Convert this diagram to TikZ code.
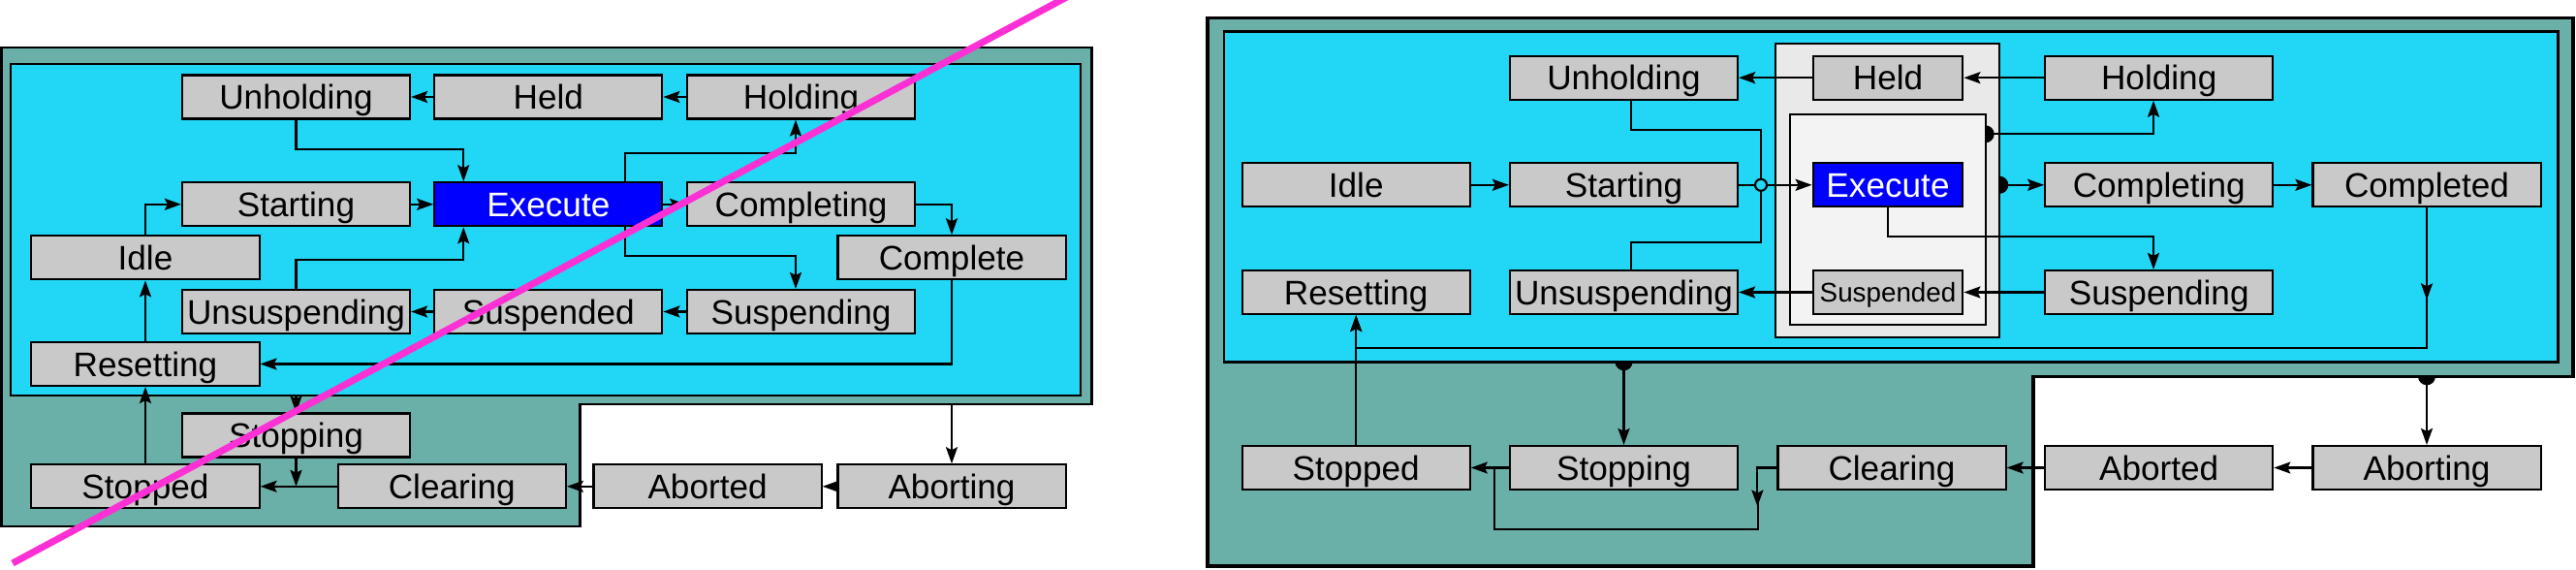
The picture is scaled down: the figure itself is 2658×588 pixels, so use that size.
\documentclass[tikz,border=0pt]{standalone}
\usepackage{fontspec}
\setmainfont{Liberation Sans}
\usetikzlibrary{arrows.meta}
\definecolor{teal1}{RGB}{106,176,168}
\definecolor{cyan1}{RGB}{34,214,245}
\definecolor{boxg}{RGB}{200,201,200}
\definecolor{exblue}{RGB}{0,0,255}
\definecolor{contg}{RGB}{232,233,232}
\definecolor{innerg}{RGB}{243,243,243}
\definecolor{magline}{RGB}{252,48,212}
\begin{document}
\begin{tikzpicture}[x=0.01cm,y=-0.01cm,
  st/.style={draw=black, line width=0.6pt, fill=boxg, minimum width=2.35cm, minimum height=0.45cm,
    inner sep=0pt, font=\fontsize{10}{12}\selectfont, text=black, text height=7.16pt, text depth=0pt},
  stn/.style={st, minimum width=1.546cm},
  ex/.style={fill=exblue, text=white},
  con/.style={line width=0.6pt, -{Stealth[length=0.17cm,width=0.12cm,inset=0.03cm]}},
  ln/.style={line width=0.6pt},
]
\fill[white] (0,0) rectangle (2658,588);
\useasboundingbox (0,0) rectangle (2658,588);

% ================= LEFT DIAGRAM =================
\draw[line width=0.85pt, fill=teal1] (1.5,49) -- (1126,49) -- (1126,417) -- (598,417) -- (598,543) -- (1.5,543) -- cycle;
\draw[line width=0.75pt, fill=cyan1] (11,66) rectangle (1115,408);

\node[st] (Lunh) at (305.5,100) {Unholding};
\node[st] (Lheld) at (565.8,100) {Held};
\node[st] (Lhold) at (826.6,100) {Holding};
\node[st] (Lstart) at (305.5,210.8) {Starting};
\node[st,ex] (Lexec) at (565.8,210.8) {Execute};
\node[st] (Lcomp) at (826.6,210.8) {Completing};
\node[st] (Lidle) at (150,265.8) {Idle};
\node[st] (Lcomplete) at (982,265.8) {Complete};
\node[st] (Lunsus) at (305.5,321.5) {Unsuspending};
\node[st] (Lsusd) at (565.8,321.5) {Suspended};
\node[st] (Lsusg) at (826.6,321.5) {Suspending};
\node[st] (Lreset) at (150,375.5) {Resetting};
\node[st] (Lstopg) at (305.5,449) {Stopping};
\node[st] (Lstopd) at (150,501.8) {Stopped};
\node[st] (Lclear) at (466.3,501.8) {Clearing};
\node[st] (Labtd) at (730.1,501.8) {Aborted};
\node[st] (Labtg) at (982,501.8) {Aborting};

\coordinate (LstopIn) at (305.5,407.7);
\coordinate (Ljoin) at (305.5,501.8);
\coordinate (LabIn) at (982,417);

\draw[con] (Lheld.west) -- (Lunh.east);
\draw[con] (Lhold.west) -- (Lheld.east);
\draw[con] (Lunh.south) -- ++(0,30) -| ([xshift=-0.875cm]Lexec.north);
\draw[con] (Lstart.east) -- (Lexec.west);
\draw[con] (Lidle.north) |- (Lstart.west);
\draw[con] (Lexec.east) -- (Lcomp.west);
\draw[con] ([xshift=0.792cm]Lexec.north) -- ++(0,-29.3) -| ([xshift=-0.056cm]Lhold.south);
\draw[con] ([xshift=0.792cm]Lexec.south) -- ++(0,29.4) -| ([xshift=-0.056cm]Lsusg.north);
\draw[con] (Lunsus.north) -- ++(0,-30) -| ([xshift=-0.875cm]Lexec.south);
\draw[con] (Lcomp.east) -| (Lcomplete.north);
\draw[con] (Lcomplete.south) |- (Lreset.east);
\draw[con] (Lsusg.west) -- (Lsusd.east);
\draw[con] (Lsusd.west) -- (Lunsus.east);
\draw[con] (Lreset.north) -- (Lidle.south);
\draw[con] (Lstopd.north) -- (Lreset.south);
\draw[con] (LstopIn) -- (Lstopg.north);
\draw[con] (Lstopg.south) -- (Ljoin);
\draw[con] (Lclear.west) -- (Lstopd.east);
\draw[con] (Labtd.west) -- (Lclear.east);
\draw[con] (Labtg.west) -- (Labtd.east);
\draw[con] (LabIn) -- (Labtg.north);

% ================= RIGHT DIAGRAM =================
\draw[line width=1.0pt, fill=teal1] (1246,18.5) -- (2655,18.5) -- (2655,388.3) -- (2098,388.3) -- (2098,584) -- (1246,584) -- cycle;
\draw[line width=0.75pt, fill=cyan1] (1263,32.3) rectangle (2639.6,373.3);
\draw[line width=0.6pt, fill=contg] (1832.3,45) rectangle (2063.3,348.3);
\draw[line width=0.6pt, fill=innerg] (1847.3,118.3) rectangle (2048.7,335);

\node[st] (Runh) at (1675.5,80.2) {Unholding};
\node[stn] (Rheld) at (1948,80.2) {Held};
\node[st] (Rhold) at (2227.7,80.2) {Holding};
\node[st] (Ridle) at (1399.2,190.8) {Idle};
\node[st] (Rstart) at (1675.5,190.8) {Starting};
\node[stn,ex] (Rexec) at (1948,190.8) {Execute};
\node[st] (Rcomp) at (2227.7,190.8) {Completing};
\node[st] (Rcompd) at (2504,190.8) {Completed};
\node[st] (Rreset) at (1399.2,301.5) {Resetting};
\node[st] (Runsus) at (1675.5,301.5) {Unsuspending};
\node[stn, font=\fontsize{7.9}{9}\selectfont, text height=5.66pt] (Rsusd) at (1948,301.5) {Suspended};
\node[st] (Rsusg) at (2227.7,301.5) {Suspending};
\node[st] (Rstopd) at (1399.2,482.5) {Stopped};
\node[st] (Rstopg) at (1675.5,482.5) {Stopping};
\node[st] (Rclear) at (1952,482.5) {Clearing};
\node[st] (Rabtd) at (2227.7,482.5) {Aborted};
\node[st] (Rabtg) at (2504,482.5) {Aborting};

\coordinate (Rjn) at (1817,190.8);
\coordinate (Rhd1) at (2048.7,138.3);
\coordinate (Rhd2) at (2063.3,190.8);
\coordinate (Rhd3) at (1675.5,373.3);
\coordinate (Rhd4) at (2504,388.3);
\coordinate (Rcm) at (2504,300);
\coordinate (Rcl) at (1814,515);
\coordinate (Rjn2) at (1542,482.5);

\draw[con] (Rheld.west) -- (Runh.east);
\draw[con] (Rhold.west) -- (Rheld.east);
\draw[con] (Ridle.east) -- (Rstart.west);
\draw[ln] ([xshift=0.075cm]Runh.south) -- ++(0,30.6) -| (Rjn);
\draw[ln] ([xshift=0.075cm]Runsus.north) -- ++(0,-28) -| (Rjn);
\draw[con] (Rstart.east) -- (Rexec.west);
\draw[line width=0.6pt, fill=cyan1] (Rjn) circle[radius=6];

\draw[con] (Rhd1) -| ([xshift=-0.057cm]Rhold.south);
\draw[con] (Rhd2) -- (Rcomp.west);
\draw[con] (Rcomp.east) -- (Rcompd.west);
\draw[con] (Rexec.south) -- ++(0,30) -| ([xshift=-0.057cm]Rsusg.north);
\draw[con] (Rsusg.west) -- (Rsusd.east);
\draw[con] (Rsusd.west) -- (Runsus.east);
\draw[con] (Rcompd.south) -- ++(0,95);
\draw[con] (Rcm) -- (2504,359) -| (Rreset.south);
\draw[con] (Rstopd.north) -- (Rreset.south);
\draw[con] (Rhd3) -- (Rstopg.north);
\draw[con] (Rstopg.west) -- (Rstopd.east);
\draw[con] (Rclear.west) -- ++(-20,0) -- ++(0,40);
\draw[ln] (Rcl) -- (1814,545.7) -| (Rjn2);
\draw[con] (Rabtd.west) -- (Rclear.east);
\draw[con] (Rabtg.west) -- (Rabtd.east);
\draw[con] (Rhd4) -- (Rabtg.north);

% half discs
\begin{scope}\clip (2048.7,128) rectangle (2062,149); \fill (Rhd1) circle[radius=9];\end{scope}
\begin{scope}\clip (2063.3,180) rectangle (2076,202); \fill (Rhd2) circle[radius=9];\end{scope}
\begin{scope}\clip (1664,373.3) rectangle (1687,386); \fill (Rhd3) circle[radius=9];\end{scope}
\begin{scope}\clip (2492,388.3) rectangle (2516,401); \fill (Rhd4) circle[radius=9];\end{scope}

% strike line
\begin{scope}
\clip (0,0) rectangle (2658,588);
\draw[magline, line width=2pt] (1100.7,-3) -- (13,581);
\end{scope}
\end{tikzpicture}
\end{document}
